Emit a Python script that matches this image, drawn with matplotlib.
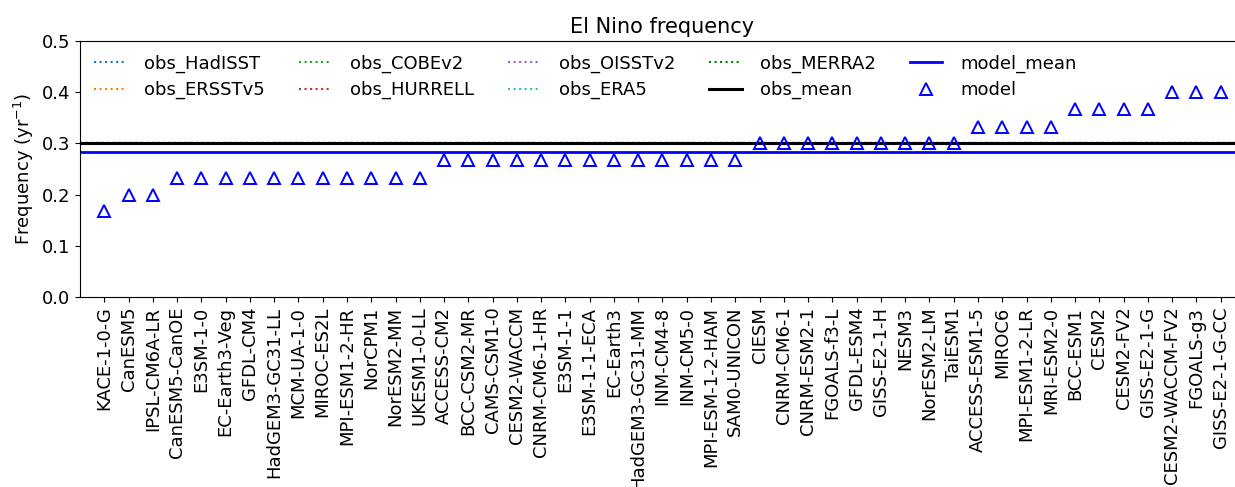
import numpy as np
import matplotlib
matplotlib.use("Agg")
import matplotlib.pyplot as plt

# models sorted by El Nino frequency (events per year)
models = [
    "KACE-1-0-G", "CanESM5", "IPSL-CM6A-LR", "CanESM5-CanOE", "E3SM-1-0",
    "EC-Earth3-Veg", "GFDL-CM4", "HadGEM3-GC31-LL", "MCM-UA-1-0", "MIROC-ES2L",
    "MPI-ESM1-2-HR", "NorCPM1", "NorESM2-MM", "UKESM1-0-LL", "ACCESS-CM2",
    "BCC-CSM2-MR", "CAMS-CSM1-0", "CESM2-WACCM", "CNRM-CM6-1-HR", "E3SM-1-1",
    "E3SM-1-1-ECA", "EC-Earth3", "HadGEM3-GC31-MM", "INM-CM4-8", "INM-CM5-0",
    "MPI-ESM-1-2-HAM", "SAM0-UNICON", "CIESM", "CNRM-CM6-1", "CNRM-ESM2-1",
    "FGOALS-f3-L", "GFDL-ESM4", "GISS-E2-1-H", "NESM3", "NorESM2-LM",
    "TaiESM1", "ACCESS-ESM1-5", "MIROC6", "MPI-ESM1-2-LR", "MRI-ESM2-0",
    "BCC-ESM1", "CESM2", "CESM2-FV2", "GISS-E2-1-G", "CESM2-WACCM-FV2",
    "FGOALS-g3", "GISS-E2-1-G-CC",
]
freq = [
    0.167, 0.200, 0.200,
    0.233, 0.233, 0.233, 0.233, 0.233, 0.233, 0.233, 0.233, 0.233, 0.233, 0.233,
    0.267, 0.267, 0.267, 0.267, 0.267, 0.267, 0.267, 0.267, 0.267, 0.267, 0.267,
    0.267, 0.267,
    0.300, 0.300, 0.300, 0.300, 0.300, 0.300, 0.300, 0.300, 0.300,
    0.333, 0.333, 0.333, 0.333,
    0.367, 0.367, 0.367, 0.367,
    0.400, 0.400, 0.400,
]

obs_names = ["HadISST", "ERSSTv5", "COBEv2", "HURRELL", "OISSTv2", "ERA5", "MERRA2"]
obs_freq = [0.300, 0.300, 0.300, 0.300, 0.300, 0.300, 0.300]
obs_colors = ["tab:blue", "tab:orange", "tab:green", "tab:red", "tab:purple",
              "#1fc9b0", "green"]

fig = plt.figure(figsize=(12.35, 4.87), dpi=100)
W, H = 1235, 487
ax = fig.add_axes([80 / W, 1 - 297 / H, 48 * 24.27 / W, 256 / H])

x = np.arange(len(models))
for name, val, col in zip(obs_names, obs_freq, obs_colors):
    ax.axhline(val, ls=":", color=col, lw=1.5, label="obs_" + name)
ax.axhline(np.mean(obs_freq), color="black", lw=2.2, label="obs_mean")
ax.axhline(np.mean(freq), color="blue", lw=2, label="model_mean")
ax.plot(x, freq, ls="none", marker="^", mfc="none", mec="blue", ms=9, mew=1.4,
        label="model")

ax.set_xlim(-1, 47)
ax.set_ylim(0, 0.5)
ax.set_yticks([0.0, 0.1, 0.2, 0.3, 0.4, 0.5])
ax.set_xticks(x)
ax.set_xticklabels(models, rotation=90)
ax.tick_params(labelsize=13)
ax.set_ylabel("Frequency (yr$^{-1}$)", fontsize=13)
ax.set_title("El Nino frequency", fontsize=15)

ax.legend(loc="upper left", ncol=5, frameon=False, fontsize=13,
          handlelength=1.8, handletextpad=1.0, columnspacing=1.9,
          labelspacing=0.45, borderaxespad=0.35)

fig.savefig("out.png", dpi=100)
